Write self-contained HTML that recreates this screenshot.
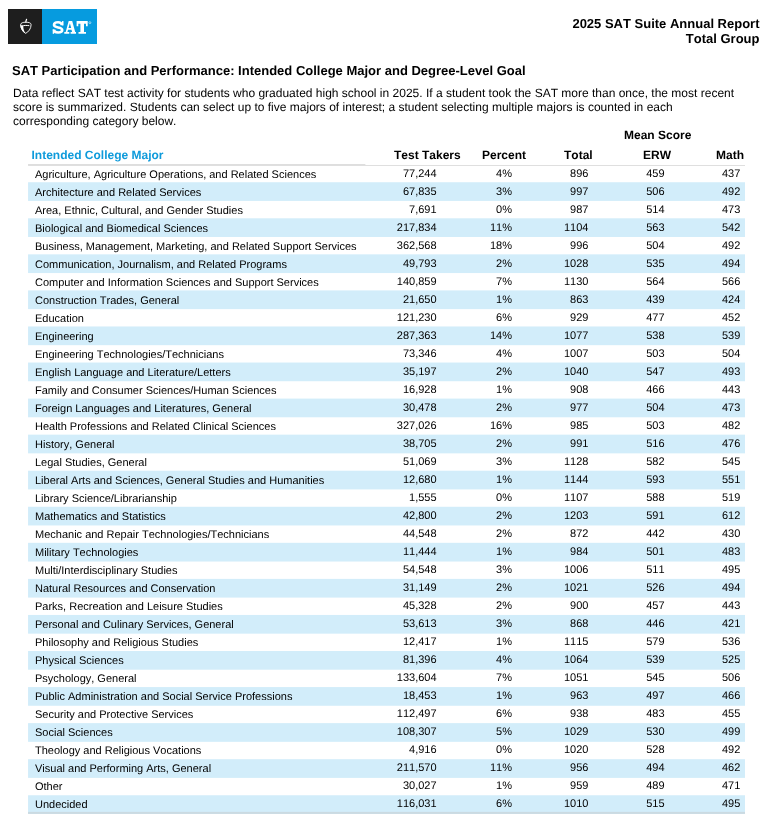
<!DOCTYPE html>
<html><head><meta charset="utf-8"><title>SAT Suite Annual Report</title>
<style>
*{margin:0;padding:0;box-sizing:border-box}
html,body{width:769px;height:827px;background:#fff;overflow:hidden}
body{position:relative;font-family:"Liberation Sans",sans-serif;color:#000;font-kerning:none;font-variant-ligatures:none;text-rendering:geometricPrecision}
#pg{position:absolute;left:0;top:0;width:769px;height:827px;background:#fff;will-change:transform}
.abs{position:absolute;white-space:nowrap}
.logo-k{left:8px;top:9px;width:35px;height:34.7px;background:#1e1e1e}
.logo-b{left:42.2px;top:9px;width:54.9px;height:34.7px;background:#069bdf}
.sat{left:52.2px;top:14.2px;font-family:"Liberation Serif",serif;font-weight:bold;font-size:19.5px;line-height:24px;color:#fff;letter-spacing:-0.6px;-webkit-text-stroke:0.5px #fff}
.reg{left:89.3px;top:20.3px;font-size:4px;line-height:4px;color:#fff}
.rh{right:9.5px;top:15.5px;text-align:right;font-weight:bold;font-size:13px;line-height:15px}
.title{left:12px;top:63px;font-weight:bold;font-size:13px;line-height:15px}
.para{left:13px;top:86px;font-size:12px;line-height:14px;color:#000}
.th{font-weight:bold;font-size:12px;line-height:14px;color:#000}
.r{position:absolute;left:28px;width:717px;height:18px;font-size:11px;line-height:18px;color:#000}
.r span{position:absolute;top:0;white-space:nowrap}
.c0{left:7px}
.c1,.c2,.c3,.c4,.c5{top:-1px !important}
.c1{right:308.4px}
.c2{right:233px}
.c3{right:156.6px}
.c4{right:80.5px}
.c5{right:4.7px}
</style></head><body><div id="pg">
<div class="abs logo-k"></div><div class="abs logo-b"></div>
<svg class="abs" style="left:14px;top:14px" width="24" height="26" viewBox="0 0 24 26">
<path d="M12.6 5.3 C12.2 6.2 11.9 7.0 11.8 8.2" fill="none" stroke="#fff" stroke-width="1.2" stroke-linecap="round"/>
<path d="M6.7 10.6 C6.7 8.9 9 8.2 11.9 8.2 C14.8 8.2 17.1 8.9 17.1 10.6 C17.1 14.8 14.4 18.0 11.7 19.3 C9.0 18.0 6.7 14.8 6.7 10.6 Z" fill="none" stroke="#fff" stroke-width="0.9" stroke-linejoin="round"/>
<path d="M6.3 10.4 C6.3 14.6 8.9 18.1 11.7 19.6 C10.3 17.6 9.1 15.0 9.3 12.0 C8.3 11.6 7.1 11.1 6.3 10.4Z" fill="#fff"/>
<path d="M8.4 11.8 C9.8 11.4 12.6 11.3 14.9 11.6" fill="none" stroke="#fff" stroke-width="1.0" stroke-linecap="round"/>
</svg>
<svg class="abs" style="left:48px;top:14px" width="48" height="26" viewBox="0 0 48 26">
<g fill="#fff">
<path d="M13.9 11.3 C13.9 9.2 12.3 8.3 10.1 8.3 C7.8 8.3 6.0 9.3 6.0 11.0 C6.0 12.6 7.8 13.0 10.1 13.45 C12.6 13.9 14.2 14.5 14.2 16.0 C14.2 17.7 12.4 18.5 10.1 18.5 C7.7 18.5 6.0 17.5 6.0 15.5" fill="none" stroke="#fff" stroke-width="2.6"/>
<rect x="14.0" y="7.1" width="1.5" height="4.3"/>
<rect x="4.7" y="15.4" width="1.5" height="4.4"/>
<path fill-rule="evenodd" d="M20.7 7 L24.2 7 L27.2 17.9 L28 17.9 L28 19.8 L22.6 19.8 L22.6 17.9 L24.1 17.9 L23.5 15.8 L20.0 15.8 L19.4 17.9 L21.3 17.9 L21.3 19.8 L16.3 19.8 L16.3 17.9 L17.7 17.9 Z M21.9 9.3 L20.45 14.0 L23.2 14.0 Z"/>
<path d="M28.6 7 L39.7 7 L39.7 12.2 L38.0 12.2 L38.0 9.8 L36.0 9.8 L36.0 17.9 L38.0 17.9 L38.0 19.8 L30.5 19.8 L30.5 17.9 L32.4 17.9 L32.4 9.8 L30.3 9.8 L30.3 12.2 L28.6 12.2 Z"/>
</g>
<circle cx="41.9" cy="8.7" r="1.0" fill="none" stroke="#fff" stroke-width="0.55" opacity="0.95"/>
</svg>
<div class="abs rh">2025 SAT Suite Annual Report<br>Total Group</div>
<div class="abs title">SAT Participation and Performance: Intended College Major and Degree-Level Goal</div>
<div class="abs para">Data reflect SAT test activity for students who graduated high school in 2025. If a student took the SAT more than once, the most recent<br>score is summarized. Students can select up to five majors of interest; a student selecting multiple majors is counted in each<br>corresponding category below.</div>
<div class="abs th" style="left:31.5px;top:148px;color:#0f9bdb">Intended College Major</div>
<div class="abs th" style="left:394px;top:148px">Test Takers</div>
<div class="abs th" style="left:482px;top:148px">Percent</div>
<div class="abs th" style="left:564px;top:148px">Total</div>
<div class="abs th" style="left:624px;top:128px">Mean Score</div>
<div class="abs th" style="left:643px;top:148px">ERW</div>
<div class="abs th" style="left:716px;top:148px">Math</div>
<svg class="abs" style="left:0;top:0" width="769" height="827" viewBox="0 0 769 827"><rect x="28.05" y="182.23" width="716.95" height="18.7" fill="#d2edfa"/><rect x="28.05" y="218.29" width="716.95" height="18.7" fill="#d2edfa"/><rect x="28.05" y="254.35" width="716.95" height="18.7" fill="#d2edfa"/><rect x="28.05" y="290.41" width="716.95" height="18.7" fill="#d2edfa"/><rect x="28.05" y="326.47" width="716.95" height="18.7" fill="#d2edfa"/><rect x="28.05" y="362.53" width="716.95" height="18.7" fill="#d2edfa"/><rect x="28.05" y="398.59" width="716.95" height="18.7" fill="#d2edfa"/><rect x="28.05" y="434.65" width="716.95" height="18.7" fill="#d2edfa"/><rect x="28.05" y="470.71" width="716.95" height="18.7" fill="#d2edfa"/><rect x="28.05" y="506.77" width="716.95" height="18.7" fill="#d2edfa"/><rect x="28.05" y="542.83" width="716.95" height="18.7" fill="#d2edfa"/><rect x="28.05" y="578.89" width="716.95" height="18.7" fill="#d2edfa"/><rect x="28.05" y="614.95" width="716.95" height="18.7" fill="#d2edfa"/><rect x="28.05" y="651.01" width="716.95" height="18.7" fill="#d2edfa"/><rect x="28.05" y="687.07" width="716.95" height="18.7" fill="#d2edfa"/><rect x="28.05" y="723.13" width="716.95" height="18.7" fill="#d2edfa"/><rect x="28.05" y="759.19" width="716.95" height="18.7" fill="#d2edfa"/><rect x="28.05" y="795.25" width="716.95" height="18.7" fill="#d2edfa"/><rect x="28.05" y="164" width="337.3" height="1.95" fill="#dedede"/><rect x="365" y="165" width="380" height="0.95" fill="#dedede"/><rect x="28.05" y="811.9" width="716.95" height="2" fill="#cbdae1"/></svg>
<div class="r" style="top:166px"><span class="c0">Agriculture, Agriculture Operations, and Related Sciences</span><span class="c1">77,244</span><span class="c2">4%</span><span class="c3">896</span><span class="c4">459</span><span class="c5">437</span></div>
<div class="r" style="top:184px"><span class="c0">Architecture and Related Services</span><span class="c1">67,835</span><span class="c2">3%</span><span class="c3">997</span><span class="c4">506</span><span class="c5">492</span></div>
<div class="r" style="top:202px"><span class="c0">Area, Ethnic, Cultural, and Gender Studies</span><span class="c1">7,691</span><span class="c2">0%</span><span class="c3">987</span><span class="c4">514</span><span class="c5">473</span></div>
<div class="r" style="top:220px"><span class="c0">Biological and Biomedical Sciences</span><span class="c1">217,834</span><span class="c2">11%</span><span class="c3">1104</span><span class="c4">563</span><span class="c5">542</span></div>
<div class="r" style="top:238px"><span class="c0">Business, Management, Marketing, and Related Support Services</span><span class="c1">362,568</span><span class="c2">18%</span><span class="c3">996</span><span class="c4">504</span><span class="c5">492</span></div>
<div class="r" style="top:256px"><span class="c0">Communication, Journalism, and Related Programs</span><span class="c1">49,793</span><span class="c2">2%</span><span class="c3">1028</span><span class="c4">535</span><span class="c5">494</span></div>
<div class="r" style="top:274px"><span class="c0">Computer and Information Sciences and Support Services</span><span class="c1">140,859</span><span class="c2">7%</span><span class="c3">1130</span><span class="c4">564</span><span class="c5">566</span></div>
<div class="r" style="top:292px"><span class="c0">Construction Trades, General</span><span class="c1">21,650</span><span class="c2">1%</span><span class="c3">863</span><span class="c4">439</span><span class="c5">424</span></div>
<div class="r" style="top:310px"><span class="c0">Education</span><span class="c1">121,230</span><span class="c2">6%</span><span class="c3">929</span><span class="c4">477</span><span class="c5">452</span></div>
<div class="r" style="top:328px"><span class="c0">Engineering</span><span class="c1">287,363</span><span class="c2">14%</span><span class="c3">1077</span><span class="c4">538</span><span class="c5">539</span></div>
<div class="r" style="top:346px"><span class="c0">Engineering Technologies/Technicians</span><span class="c1">73,346</span><span class="c2">4%</span><span class="c3">1007</span><span class="c4">503</span><span class="c5">504</span></div>
<div class="r" style="top:364px"><span class="c0">English Language and Literature/Letters</span><span class="c1">35,197</span><span class="c2">2%</span><span class="c3">1040</span><span class="c4">547</span><span class="c5">493</span></div>
<div class="r" style="top:382px"><span class="c0">Family and Consumer Sciences/Human Sciences</span><span class="c1">16,928</span><span class="c2">1%</span><span class="c3">908</span><span class="c4">466</span><span class="c5">443</span></div>
<div class="r" style="top:400px"><span class="c0">Foreign Languages and Literatures, General</span><span class="c1">30,478</span><span class="c2">2%</span><span class="c3">977</span><span class="c4">504</span><span class="c5">473</span></div>
<div class="r" style="top:418px"><span class="c0">Health Professions and Related Clinical Sciences</span><span class="c1">327,026</span><span class="c2">16%</span><span class="c3">985</span><span class="c4">503</span><span class="c5">482</span></div>
<div class="r" style="top:436px"><span class="c0">History, General</span><span class="c1">38,705</span><span class="c2">2%</span><span class="c3">991</span><span class="c4">516</span><span class="c5">476</span></div>
<div class="r" style="top:454px"><span class="c0">Legal Studies, General</span><span class="c1">51,069</span><span class="c2">3%</span><span class="c3">1128</span><span class="c4">582</span><span class="c5">545</span></div>
<div class="r" style="top:472px"><span class="c0">Liberal Arts and Sciences, General Studies and Humanities</span><span class="c1">12,680</span><span class="c2">1%</span><span class="c3">1144</span><span class="c4">593</span><span class="c5">551</span></div>
<div class="r" style="top:490px"><span class="c0">Library Science/Librarianship</span><span class="c1">1,555</span><span class="c2">0%</span><span class="c3">1107</span><span class="c4">588</span><span class="c5">519</span></div>
<div class="r" style="top:508px"><span class="c0">Mathematics and Statistics</span><span class="c1">42,800</span><span class="c2">2%</span><span class="c3">1203</span><span class="c4">591</span><span class="c5">612</span></div>
<div class="r" style="top:526px"><span class="c0">Mechanic and Repair Technologies/Technicians</span><span class="c1">44,548</span><span class="c2">2%</span><span class="c3">872</span><span class="c4">442</span><span class="c5">430</span></div>
<div class="r" style="top:544px"><span class="c0">Military Technologies</span><span class="c1">11,444</span><span class="c2">1%</span><span class="c3">984</span><span class="c4">501</span><span class="c5">483</span></div>
<div class="r" style="top:562px"><span class="c0">Multi/Interdisciplinary Studies</span><span class="c1">54,548</span><span class="c2">3%</span><span class="c3">1006</span><span class="c4">511</span><span class="c5">495</span></div>
<div class="r" style="top:580px"><span class="c0">Natural Resources and Conservation</span><span class="c1">31,149</span><span class="c2">2%</span><span class="c3">1021</span><span class="c4">526</span><span class="c5">494</span></div>
<div class="r" style="top:598px"><span class="c0">Parks, Recreation and Leisure Studies</span><span class="c1">45,328</span><span class="c2">2%</span><span class="c3">900</span><span class="c4">457</span><span class="c5">443</span></div>
<div class="r" style="top:616px"><span class="c0">Personal and Culinary Services, General</span><span class="c1">53,613</span><span class="c2">3%</span><span class="c3">868</span><span class="c4">446</span><span class="c5">421</span></div>
<div class="r" style="top:634px"><span class="c0">Philosophy and Religious Studies</span><span class="c1">12,417</span><span class="c2">1%</span><span class="c3">1115</span><span class="c4">579</span><span class="c5">536</span></div>
<div class="r" style="top:652px"><span class="c0">Physical Sciences</span><span class="c1">81,396</span><span class="c2">4%</span><span class="c3">1064</span><span class="c4">539</span><span class="c5">525</span></div>
<div class="r" style="top:670px"><span class="c0">Psychology, General</span><span class="c1">133,604</span><span class="c2">7%</span><span class="c3">1051</span><span class="c4">545</span><span class="c5">506</span></div>
<div class="r" style="top:688px"><span class="c0">Public Administration and Social Service Professions</span><span class="c1">18,453</span><span class="c2">1%</span><span class="c3">963</span><span class="c4">497</span><span class="c5">466</span></div>
<div class="r" style="top:706px"><span class="c0">Security and Protective Services</span><span class="c1">112,497</span><span class="c2">6%</span><span class="c3">938</span><span class="c4">483</span><span class="c5">455</span></div>
<div class="r" style="top:724px"><span class="c0">Social Sciences</span><span class="c1">108,307</span><span class="c2">5%</span><span class="c3">1029</span><span class="c4">530</span><span class="c5">499</span></div>
<div class="r" style="top:742px"><span class="c0">Theology and Religious Vocations</span><span class="c1">4,916</span><span class="c2">0%</span><span class="c3">1020</span><span class="c4">528</span><span class="c5">492</span></div>
<div class="r" style="top:760px"><span class="c0">Visual and Performing Arts, General</span><span class="c1">211,570</span><span class="c2">11%</span><span class="c3">956</span><span class="c4">494</span><span class="c5">462</span></div>
<div class="r" style="top:778px"><span class="c0">Other</span><span class="c1">30,027</span><span class="c2">1%</span><span class="c3">959</span><span class="c4">489</span><span class="c5">471</span></div>
<div class="r" style="top:796px"><span class="c0">Undecided</span><span class="c1">116,031</span><span class="c2">6%</span><span class="c3">1010</span><span class="c4">515</span><span class="c5">495</span></div>
</div></body></html>
